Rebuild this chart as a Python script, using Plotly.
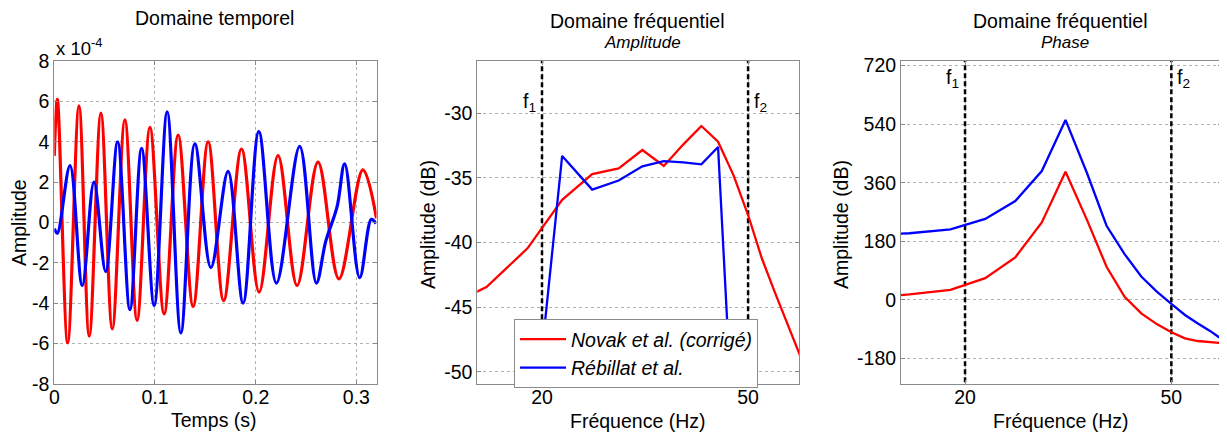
import math
import plotly.graph_objects as go

# ---------------- data ----------------
# time domain (values in units of 1e-4), read at extrema
t_novak = [0, 0.003, 0.0133, 0.0245, 0.0347, 0.0463, 0.0576, 0.0701, 0.0822, 0.095, 0.1091,
           0.123, 0.1379, 0.1528, 0.1682, 0.1859, 0.2034, 0.2222, 0.2411, 0.2619, 0.2827,
           0.3065, 0.32]
a_novak = [3.3, 6.1, -5.96, 5.78, -5.63, 5.42, -5.27, 5.09, -4.85, 4.71, -4.53,
           4.33, -4.16, 4.0, -3.87, 3.64, -3.45, 3.31, -3.12, 2.99, -2.79,
           2.61, 0.2]
t_rebillat = [0, 0.003, 0.0156, 0.0278, 0.0394, 0.051, 0.0629, 0.0751, 0.0867, 0.0992, 0.1121,
              0.1257, 0.1396, 0.1555, 0.1726, 0.1875, 0.2031, 0.2206, 0.2437, 0.2603, 0.2695,
              0.2808, 0.2884, 0.3033, 0.3149, 0.3195]
a_rebillat = [-0.3, -0.54, 2.82, -3.12, 2.0, -2.43, 4.0, -4.32, 3.67, -4.11, 5.48,
              -5.47, 3.89, -2.24, 2.53, -3.99, 4.5, -3.0, 3.77, -3.0, -0.95,
              0.77, 2.9, -2.73, 0.16, -0.05]

# frequency domain
freq = [12.5, 15.625, 18.75, 21.875, 25, 28.125, 31.25, 34.375, 37.5, 40.625, 43.75,
        46.875, 50, 53.125, 56.25, 59.375, 62.5, 65.625]
amp_novak = [-45.3, -43.45, -40.45, -36.7, -34.7, -34.26, -32.84, -34.08, -32.4, -30.98, -32.2,
             -34.8, -37.87, -41.2, -43.8, -46.1, -48.4, -50.6]
amp_rebillat = [None, None, -59.3, -33.3, -35.9, -35.2, -34.1, -33.7, -33.8, -33.95, -32.6,
                -55.6, None, None, None, None, None, None]
phase_novak = [6, 17, 31, 67, 131, 238, 394, 246, 102, 10, -41,
               -74, -99, -118, -126, -130, -133, -135]
phase_rebillat = [197, 205, 217, 249, 304, 396, 553, 390, 228, 141, 72,
                  26, -12, -46, -72, -95, -120, -140]

f_band = [20, 50]
f_labels = ["f<sub>1</sub>", "f<sub>2</sub>"]

time_yticks = [-8, -6, -4, -2, 0, 2, 4, 6, 8]
time_xticks = [0, 0.1, 0.2, 0.3]
time_xticktext = ["0", "0.1", "0.2", "0.3"]
amp_yticks = [-50, -45, -40, -35, -30]
phase_yticks = [-180, 0, 180, 360, 540, 720]
freq_ticks = [20, 50]

# ---------------- figure ----------------
OFF = 8  # page body margin
W, H = 1219, 426
FONT = "Liberation Sans, Arial, sans-serif"
FS = 19.5
RED = "#ff0000"
BLUE = "#0000ff"


def px_x(x):
    return (x - OFF) / W


def px_y(y):
    return (H - (y - OFF)) / H


def tlabels(vals):
    return [str(v) for v in vals]


fig = go.Figure()

# left panel
fig.add_trace(go.Scatter(x=t_novak, y=a_novak, mode="lines", line=dict(color=RED, width=3.2, shape="spline", smoothing=1.0),
                         xaxis="x", yaxis="y", showlegend=False))
fig.add_trace(go.Scatter(x=t_rebillat, y=a_rebillat, mode="lines", line=dict(color=BLUE, width=3.2, shape="spline", smoothing=1.0),
                         xaxis="x", yaxis="y", showlegend=False))

# middle panel
for f in f_band:
    fig.add_trace(go.Scatter(x=[f, f], y=[-80, 0], mode="lines", line=dict(color="black", width=2.5, dash="5px,3px"),
                             xaxis="x2", yaxis="y2", showlegend=False, hoverinfo="skip"))
fig.add_trace(go.Scatter(x=freq, y=amp_novak, mode="lines", line=dict(color=RED, width=2.3),
                         xaxis="x2", yaxis="y2", name="<i>Novak et al. (corrigé)</i>"))
fig.add_trace(go.Scatter(x=freq, y=amp_rebillat, mode="lines", line=dict(color=BLUE, width=2.3),
                         xaxis="x2", yaxis="y2", name="<i>Rébillat et al.</i>", connectgaps=False))

# right panel
for f in f_band:
    fig.add_trace(go.Scatter(x=[f, f], y=[-400, 900], mode="lines", line=dict(color="black", width=2.5, dash="5px,3px"),
                             xaxis="x3", yaxis="y3", showlegend=False, hoverinfo="skip"))
fig.add_trace(go.Scatter(x=freq, y=phase_novak, mode="lines", line=dict(color=RED, width=2.3),
                         xaxis="x3", yaxis="y3", showlegend=False))
fig.add_trace(go.Scatter(x=freq, y=phase_rebillat, mode="lines", line=dict(color=BLUE, width=2.3),
                         xaxis="x3", yaxis="y3", showlegend=False))

ydom = [px_y(384), px_y(61)]
axis_common = dict(showline=True, mirror="ticks", linecolor="#8a8a8a", linewidth=1,
                   ticks="inside", ticklen=4, tickcolor="#8a8a8a",
                   showgrid=True, gridcolor="#b0b0b0", griddash="dot", gridwidth=1,
                   zeroline=False, automargin=False,
                   tickfont=dict(family=FONT, size=FS, color="black"))
xaxis_extra = dict(ticklabelstandoff=-4)

fig.update_layout(
    width=W, height=H,
    margin=dict(l=0, r=0, t=0, b=0, pad=0, autoexpand=False),
    paper_bgcolor="white", plot_bgcolor="white",
    font=dict(family=FONT, size=FS, color="black"),
    xaxis=dict(domain=[px_x(54.3), px_x(376.5)], range=[0, 0.32], tickvals=time_xticks, ticktext=time_xticktext,
               anchor="y", **axis_common, **xaxis_extra),
    yaxis=dict(domain=ydom, range=[-8, 8], tickvals=time_yticks, ticktext=tlabels(time_yticks),
               anchor="x", **axis_common),
    xaxis2=dict(domain=[px_x(477.3), px_x(799)], type="log", range=[math.log10(15), math.log10(62.7)],
                tickvals=freq_ticks, ticktext=tlabels(freq_ticks), anchor="y2", **axis_common, **xaxis_extra),
    yaxis2=dict(domain=ydom, range=[-50.95, -25.95], tickvals=amp_yticks, ticktext=tlabels(amp_yticks),
                anchor="x2", **axis_common),
    xaxis3=dict(domain=[px_x(901), px_x(1222.3)], type="log", range=[math.log10(15.05), math.log10(62.7)],
                tickvals=freq_ticks, ticktext=tlabels(freq_ticks), anchor="y3", **axis_common, **xaxis_extra),
    yaxis3=dict(domain=ydom, range=[-258, 734], tickvals=phase_yticks, ticktext=tlabels(phase_yticks),
                anchor="x3", **axis_common),
    legend=dict(x=px_x(514), y=px_y(319), xanchor="left", yanchor="top",
                bordercolor="#8a8a8a", borderwidth=1, bgcolor="white", itemwidth=46,
                font=dict(family=FONT, size=FS, color="black"), tracegroupgap=0),
    showlegend=True,
)

ann = []


def text_ann(x, y, text, size=FS, **kw):
    d = dict(x=px_x(x), y=px_y(y), xref="paper", yref="paper", text=text, showarrow=False,
             font=dict(family=FONT, size=size, color="black"), xanchor="center", yanchor="middle")
    d.update(kw)
    ann.append(d)


# titles
text_ann(214, 18, "Domaine temporel")
text_ann(637, 21, "Domaine fréquentiel")
text_ann(642, 42, "<i>Amplitude</i>", size=17)
text_ann(1060, 21, "Domaine fréquentiel")
text_ann(1065, 42, "<i>Phase</i>", size=17)
# axis titles
text_ann(214, 420, "Temps (s)")
text_ann(637, 421, "Fréquence (Hz)")
text_ann(1060, 421, "Fréquence (Hz)")
text_ann(19, 223, "Amplitude", textangle=-90)
text_ann(428, 225, "Amplitude (dB)", textangle=-90)
text_ann(841, 225, "Amplitude (dB)", textangle=-90)
# exponent
text_ann(54, 61, "x 10<sup>-4</sup>", size=18.5, xanchor="left", yanchor="bottom")

# f1 / f2 labels
for xr, yr, yv in (("x2", "y2", -29.2), ("x3", "y3", 680)):
    ann.append(dict(x=math.log10(f_band[0]), y=yv, xref=xr, yref=yr, text=f_labels[0], showarrow=False,
                    xanchor="right", yanchor="middle", xshift=-4, font=dict(family=FONT, size=FS, color="black")))
    ann.append(dict(x=math.log10(f_band[1]), y=yv, xref=xr, yref=yr, text=f_labels[1], showarrow=False,
                    xanchor="left", yanchor="middle", xshift=4, font=dict(family=FONT, size=FS, color="black")))

fig.update_layout(annotations=ann)

fig.write_html("out.html")
